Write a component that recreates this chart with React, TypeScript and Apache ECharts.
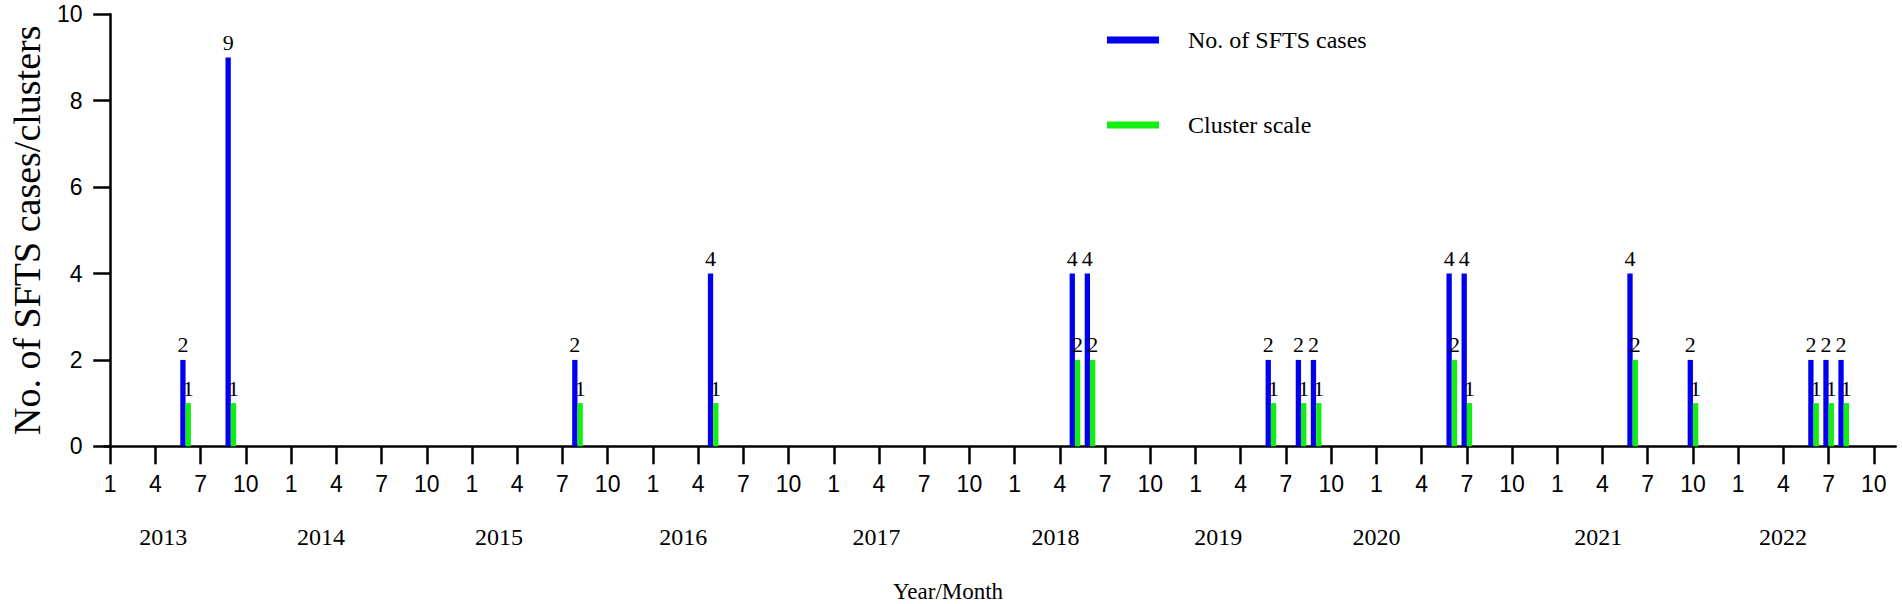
import React, { useEffect, useRef } from "react";
import * as echarts from "echarts";

// ---- data ----
const barMonths = [
  "2013-06", "2013-09", "2015-08", "2016-05", "2018-05", "2018-06",
  "2019-06", "2019-08", "2019-09", "2020-06", "2020-07", "2021-06",
  "2021-10", "2022-06", "2022-07", "2022-08",
];
const sftsCases = [2, 9, 2, 4, 4, 4, 2, 2, 2, 4, 4, 4, 2, 2, 2, 2];
const clusterScale = [1, 1, 1, 1, 2, 2, 1, 1, 1, 2, 1, 2, 1, 1, 1, 1];

const years = [2013, 2014, 2015, 2016, 2017, 2018, 2019, 2020, 2021, 2022];
const tickMonths = [1, 4, 7, 10];
// where the year captions sit along the month axis (months since Jan 2013)
const yearCaptionPos = [3.52, 13.98, 25.8, 38.01, 50.84, 62.71, 73.51, 84.0, 98.72, 110.97];

const seriesNames = ["No. of SFTS cases", "Cluster scale"];
const yTitle = "No. of SFTS cases/clusters";
const xTitle = "Year/Month";

const START_YEAR = 2013;
const monthIndex = (ym: string) => {
  const [y, m] = ym.split("-").map(Number);
  return (y - START_YEAR) * 12 + (m - 1);
};

const SANS = "Liberation Sans, Arial, sans-serif";
const SERIF = "Liberation Serif, Times New Roman, serif";

export default function App() {
  const ref = useRef<HTMLDivElement>(null);

  useEffect(() => {
    if (!ref.current) return;
    const chart = echarts.init(ref.current, null, { renderer: "svg" });

    const tickVals: number[] = [];
    years.forEach((y) =>
      tickMonths.forEach((m) => tickVals.push((y - START_YEAR) * 12 + (m - 1)))
    );

    const casesData = barMonths.map((m, i) => [monthIndex(m), sftsCases[i]]);
    const clusterData = barMonths.map((m, i) => [monthIndex(m), clusterScale[i]]);

    const barLabel = {
      show: true,
      position: "top",
      distance: 4,
      fontFamily: SERIF,
      fontSize: 22,
      color: "#000",
      formatter: (p: any) => String(p.value[1]),
    };

    chart.setOption({
      animation: false,
      backgroundColor: "#fff",
      grid: { left: 97.5, right: 6.3, top: 14.3, bottom: 157.7, containLabel: false },
      legend: {
        orient: "vertical",
        left: 1107,
        top: 28,
        padding: 0,
        itemGap: 61,
        itemWidth: 52,
        itemHeight: 7,
        icon: "rect",
        data: seriesNames,
        textStyle: {
          fontFamily: SERIF,
          fontSize: 24,
          color: "#000",
          padding: [0, 0, 0, 24],
        },
      },
      xAxis: [
        {
          type: "value",
          min: -0.38,
          max: 118.45,
          axisLine: { show: true, onZero: false, lineStyle: { color: "#000", width: 2.5 } },
          axisTick: {
            show: true,
            length: 18,
            customValues: tickVals,
            lineStyle: { color: "#000", width: 2.5 },
          },
          axisLabel: {
            customValues: tickVals,
            margin: 26,
            fontFamily: SANS,
            fontSize: 23,
            color: "#000",
            formatter: (v: number) => String((Math.round(v) % 12) + 1),
          },
          splitLine: { show: false },
        },
        {
          type: "value",
          min: -0.38,
          max: 118.45,
          position: "bottom",
          axisLine: { show: false },
          axisTick: { show: false },
          axisLabel: {
            customValues: yearCaptionPos,
            margin: 79,
            fontFamily: SERIF,
            fontSize: 24,
            color: "#000",
            formatter: (v: number) => {
              const k = yearCaptionPos.indexOf(v);
              return k >= 0 ? String(years[k]) : "";
            },
          },
          splitLine: { show: false },
        },
      ],
      yAxis: {
        type: "value",
        min: 0,
        max: 10,
        interval: 2,
        name: yTitle,
        nameLocation: "middle",
        nameGap: 50,
        nameTextStyle: { fontFamily: SERIF, fontSize: 38, color: "#000" },
        axisLine: { show: true, lineStyle: { color: "#000", width: 2.5 } },
        axisTick: { show: true, length: 17, lineStyle: { color: "#000", width: 2.5 } },
        axisLabel: { margin: 22, fontFamily: SANS, fontSize: 23, color: "#000" },
        splitLine: { show: false },
      },
      graphic: [
        {
          type: "text",
          left: 893,
          top: 580,
          style: { text: xTitle, font: `23px ${SERIF}`, fill: "#000" },
        },
      ],
      series: [
        {
          name: seriesNames[0],
          type: "bar",
          xAxisIndex: 0,
          data: casesData,
          barWidth: 5.3,
          barGap: "0%",
          itemStyle: { color: "#0000ee" },
          label: barLabel,
        },
        {
          name: seriesNames[1],
          type: "bar",
          xAxisIndex: 0,
          data: clusterData,
          barWidth: 5.3,
          barGap: "0%",
          itemStyle: { color: "#11ee11" },
          label: barLabel,
        },
      ],
    });

    return () => chart.dispose();
  }, []);

  return (
    <div
      ref={ref}
      style={{ position: "absolute", left: 0, top: 0, width: 1902, height: 604 }}
    />
  );
}
